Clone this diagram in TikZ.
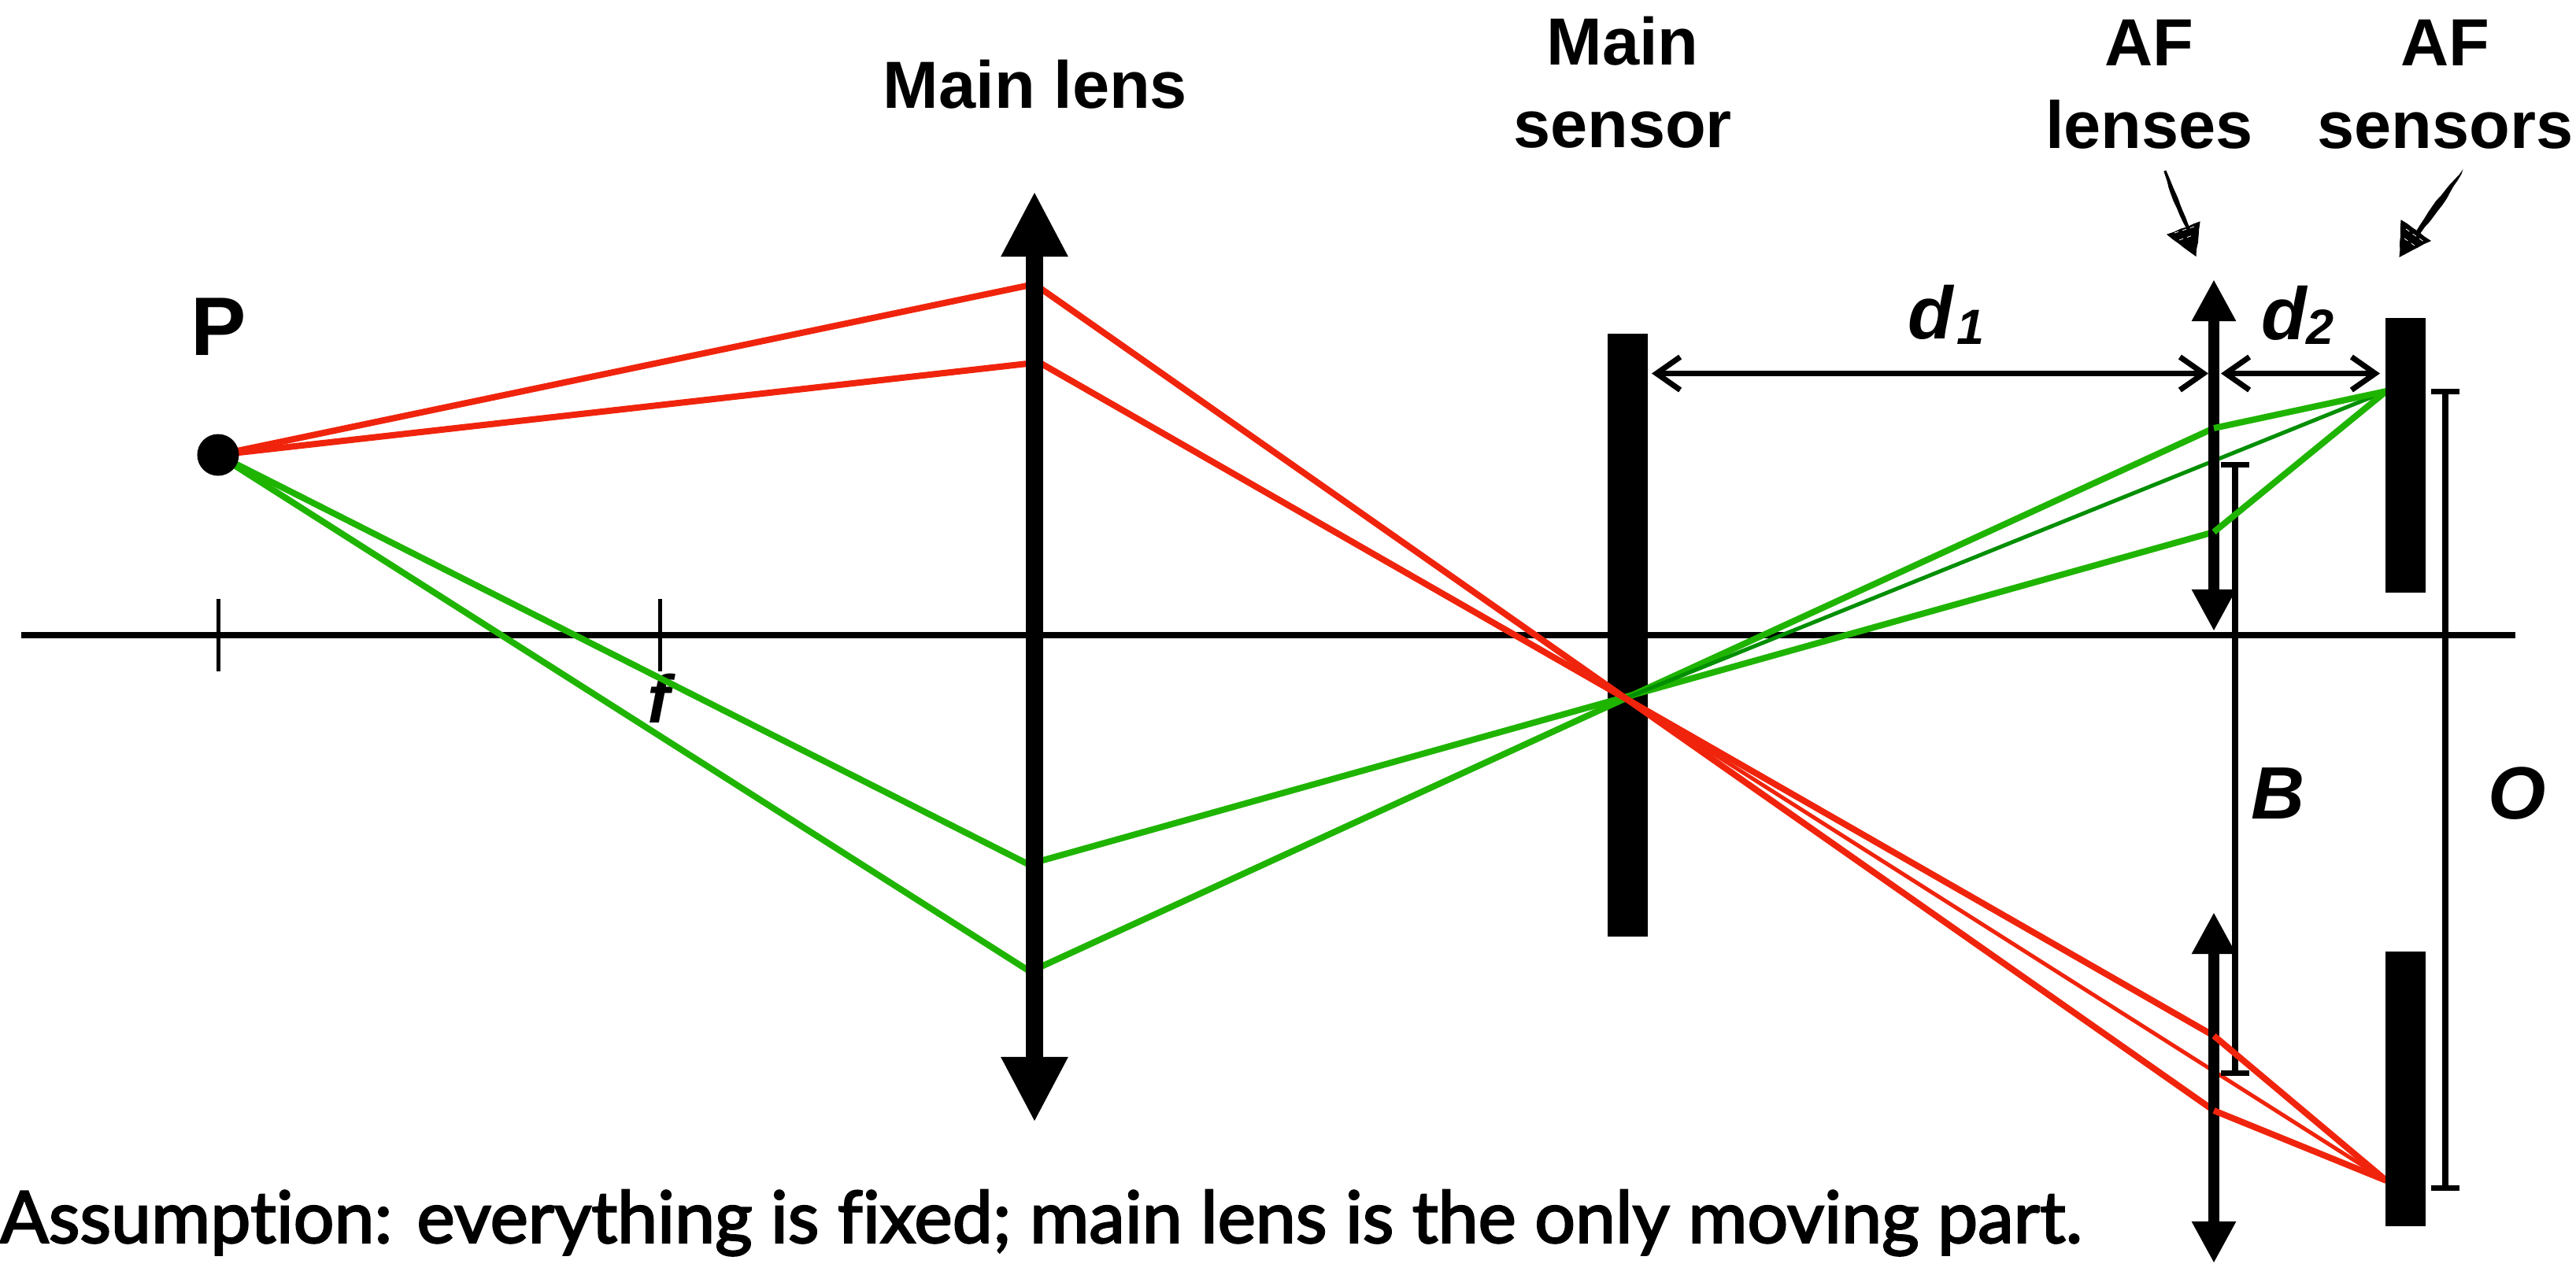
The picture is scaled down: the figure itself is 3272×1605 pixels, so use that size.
\documentclass[tikz,border=0pt]{standalone}
\usepackage{fontspec}
\setmainfont{Liberation Sans}
\newfontfamily\notefont[FakeBold=2.5,Ligatures=NoCommon]{Lato}
\usetikzlibrary{arrows.meta,decorations.pathmorphing}
\definecolor{rayred}{HTML}{F0240C}
\definecolor{raygreen}{HTML}{1FB400}
\definecolor{raydark}{HTML}{008F00}
\tikzset{
  lab/.style={inner sep=0pt,outer sep=0pt,anchor=base,align=center,font=\fontsize{24.1pt}{29.6pt}\selectfont\bfseries},
  sym/.style={inner sep=0pt,outer sep=0pt,anchor=base west,font=\fontsize{26.8pt}{30pt}\selectfont\bfseries\itshape},
  ray/.style={line width=0.08cm,line cap=butt},
  redray/.style={ray,draw=rayred},
  greenray/.style={ray,draw=raygreen},
  thinred/.style={line width=0.05cm,draw=rayred},
  thingreen/.style={line width=0.05cm,draw=raydark},
  mainlens/.style={line width=0.217cm,{Triangle[length=0.83cm,width=0.79cm]}-{Triangle[length=0.83cm,width=0.79cm]}},
  aflens/.style={line width=0.135cm,{Triangle[length=0.53cm,width=0.525cm]}-{Triangle[length=0.53cm,width=0.525cm]}},
  blackbar/.style={fill=black,draw=none,inner sep=0pt,outer sep=0pt,anchor=north west,minimum width=0.505cm},
  dimen/.style={line width=0.07cm,{Straight Barb[length=0.3cm,width=0.42cm]}-{Straight Barb[length=0.3cm,width=0.42cm]}},
  tbar/.style={line width=0.08cm,{Bar[width=0.355cm,line width=0.07cm]}-{Bar[width=0.355cm,line width=0.07cm]}},
  tick/.style={line width=0.05cm},
  sketch/.style={fill=black,draw=black,line width=0.01cm,decorate,decoration={random steps,segment length=2.5pt,amplitude=0.18pt}},
  scratch/.style={draw=white,line width=0.008cm,dash pattern=on 1.5pt off 1.5pt}
}
\begin{document}
\begin{tikzpicture}[x=0.01cm,y=-0.01cm]
\useasboundingbox (0,0) rectangle (3272,1605);
\fill[white] (0,0) rectangle (3272,1605);
\pgfmathsetseed{11}
% key points
\coordinate (axisL) at (27,807);
\coordinate (axisR) at (3195,807);
\coordinate (X) at (2065,887);
\coordinate (Pc) at (277,578);
\coordinate (mlT) at (1314,243);
\coordinate (mlB) at (1314,1426);
\coordinate (alT) at (2812,355);
\coordinate (alB) at (2812,802);
\coordinate (blT) at (2812,1159);
\coordinate (blB) at (2812,1605);
\coordinate (focG) at (3031,497);
\coordinate (focR) at (3031,1500);
\coordinate (g1) at (2812,544);
\coordinate (g2) at (2812,676);
\coordinate (r1) at (2812,1316);
\coordinate (r2) at (2812,1411);
% labels
\node[lab,font=\fontsize{30pt}{30pt}\selectfont\bfseries] (Plab) at (278,451) {P};
\node[lab] (mainlenslab) at (1315,137) {Main lens};
\node[lab] (mainsensorlab) at (2061,187) {Main\\sensor};
\node[lab] (aflenslab) at (2730,188) {AF\\lenses};
\node[lab] (afsensorlab) at (3106,188) {AF\\sensors};
\node[sym] (dA) at (2423,430) {d\kern0.05cm\raisebox{-0.07cm}{\fontsize{17.9pt}{20pt}\selectfont 1}};
\node[sym] (dB) at (2872,431) {d\raisebox{-0.06cm}{\fontsize{17.9pt}{20pt}\selectfont 2}};
\node[sym] (Blab) at (2859,1040) {B};
\node[sym] (Olab) at (3160,1040) {O};
\node[sym,anchor=base,font=\fontsize{24.5pt}{30pt}\selectfont\bfseries\itshape] (flab) at (837,918) {f};
\node[inner sep=0pt,outer sep=0pt,anchor=base west] (note) at (0,1579)
  {\resizebox{26.43cm}{!}{\notefont\fontsize{24pt}{28pt}\selectfont Assumption: everything is fixed; main lens is the only moving part.}};
% axis and ticks
\draw[line width=0.08cm] (axisL) -- (axisR);
\coordinate (t1a) at (277,761); \coordinate (t1b) at (277,853);
\coordinate (t2a) at (838,761); \coordinate (t2b) at (838,853);
\draw[tick] (t1a) -- (t1b);
\draw[tick] (t2a) -- (t2b);
% main sensor
\node[blackbar,minimum height=7.66cm] (mainsensor) at (2042,424) {};
% object rays
\coordinate (la) at (1314,361); \coordinate (lb) at (1314,461);
\coordinate (lc) at (1314,1102); \coordinate (ld) at (1314,1238);
\coordinate (ra) at (1314,361); \coordinate (rb) at (1314,457);
\coordinate (rc) at (1314,1096); \coordinate (rd) at (1314,1232);
\draw[redray] (Pc) -- (la);
\draw[redray] (Pc) -- (lb);
\draw[greenray] (Pc) -- (lc);
\draw[greenray] (Pc) -- (ld);
\draw[greenray] (rc) -- (g2);
\draw[greenray] (rd) -- (g1);
\draw[thingreen] (X) -- (focG);
\draw[redray] (ra) -- (r2);
\draw[redray] (rb) -- (r1);
\draw[thinred] (X) -- (focR);
\node[circle,fill=black,inner sep=0pt,minimum size=0.53cm] (P) at (Pc) {};
% lenses
\draw[mainlens] (mlT) -- (mlB);
\draw[aflens] (alT) -- (alB);
\draw[aflens] (blT) -- (blB);
% dimension lines
\coordinate (d1a) at (2098,474.5); \coordinate (d1b) at (2805,474.5);
\coordinate (d2a) at (2821,474.5); \coordinate (d2b) at (3023,474.5);
\draw[dimen] (d1a) -- (d1b);
\draw[dimen] (d2a) -- (d2b);
\coordinate (Ba) at (2839,587); \coordinate (Bb) at (2839,1367);
\coordinate (Oa) at (3106,494); \coordinate (Ob) at (3106,1513);
\draw[tbar] (Ba) -- (Bb);
\draw[tbar] (Oa) -- (Ob);
% rays from AF lenses to AF sensors
\draw[greenray] (g1) -- (focG);
\draw[greenray] (g2) -- (focG);
\draw[redray] (r1) -- (focR);
\draw[redray] (r2) -- (focR);
% AF sensors
\node[blackbar,minimum height=3.485cm] (afs1) at (3030,404) {};
\node[blackbar,minimum height=3.49cm] (afs2) at (3030,1208.5) {};
% sketchy pointers
\path[sketch] (2749,218) -- (2751,217) -- (2766,252) -- (2780,288) -- (2777,289) -- (2761,255) -- cycle;
\path[sketch] (2753,298) -- (2794,282) -- (2789,325) -- cycle;
\path[sketch] (3127,218) -- (3126,221) -- (3102,260) -- (3074,296) -- (3070,293) -- (3095,255) -- cycle;
\path[sketch] (3050,280) -- (3087,306) -- (3048,326) -- cycle;
\draw[scratch] (2762,296) -- (2790,287);
\draw[scratch] (2768,305) -- (2788,298);
\draw[scratch] (3056,291) -- (3080,308);
\draw[scratch] (3054,303) -- (3070,314);
\end{tikzpicture}
\end{document}
